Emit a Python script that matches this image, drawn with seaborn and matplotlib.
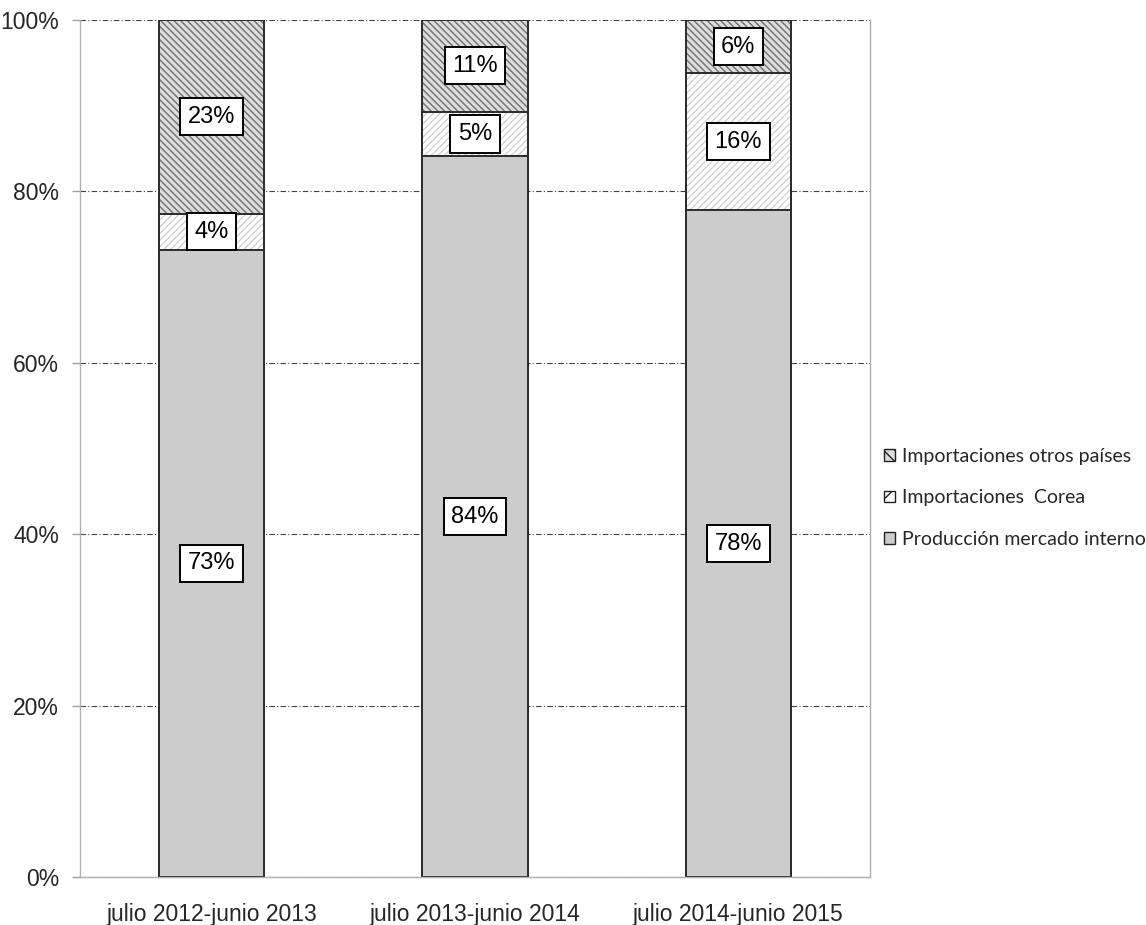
import matplotlib
matplotlib.use("Agg")
import matplotlib.pyplot as plt
import seaborn as sns
from matplotlib.patches import Patch
from matplotlib.ticker import PercentFormatter, FixedLocator

periodos = ["julio 2012-junio 2013", "julio 2013-junio 2014", "julio 2014-junio 2015"]
produccion = [73.2, 84.1, 77.8]
corea = [4.2, 5.2, 16.0]
otros = [22.6, 10.7, 6.2]
series = ["Importaciones otros países", "Importaciones  Corea", "Producción mercado interno"]
y_ticks = [0, 20, 40, 60, 80, 100]

sns.set_style("white")
plt.rcParams["font.family"] = ["Liberation Sans", "DejaVu Sans"]
plt.rcParams["hatch.linewidth"] = 1.0

fig = plt.figure(figsize=(11.46, 9.25), dpi=100)
ax = fig.add_axes([80 / 1146, 48 / 925, 790 / 1146, 857 / 925])

base = produccion
mid = [p + c for p, c in zip(produccion, corea)]
top = [m + o for m, o in zip(mid, otros)]

# capas apiladas: de la más alta a la más baja, cada una tapa la anterior
capas = [
    (top, "#dcdcdc", "#707070", "\\\\\\\\\\"),
    (mid, "white", "#d2d2d2", "/////"),
    (base, "#cccccc", "#cccccc", None),
]
for alturas, fondo, rayado, hatch in capas:
    sns.barplot(x=periodos, y=alturas, color=fondo, edgecolor=rayado,
                linewidth=0, hatch=hatch, width=0.4, saturation=1, ax=ax)
    sns.barplot(x=periodos, y=alturas, fill=False, color="#2b2b2b",
                linewidth=1.4, width=0.4, ax=ax)

# etiquetas en el centro de cada segmento
for i in range(len(periodos)):
    bottoms = [0, base[i], mid[i]]
    vals = [produccion[i], corea[i], otros[i]]
    for b, v in zip(bottoms, vals):
        ax.text(i, b + v / 2, f"{v:.0f}%", ha="center", va="center",
                fontsize=17, color="black",
                bbox=dict(boxstyle="square,pad=0.32", fc="white",
                          ec="black", lw=1.4))

ax.set_xlim(-0.5, 2.5)
ax.set_ylim(0, 100)
ax.yaxis.set_major_locator(FixedLocator(y_ticks))
ax.yaxis.set_major_formatter(PercentFormatter(100, decimals=0))
ax.grid(axis="y", color="#444444", linestyle=(0, (5, 2, 1, 2)), linewidth=0.8)
ax.set_axisbelow(True)

ax.xaxis.set_minor_locator(FixedLocator([-0.5, 0.5, 1.5, 2.5]))
ax.tick_params(axis="x", which="major", length=0, pad=19, labelsize=16.5)
ax.tick_params(axis="x", which="minor", length=9, width=1, color="#a0a0a0")
ax.tick_params(axis="y", length=6, width=1, color="#a0a0a0", pad=9,
               labelsize=16.5, left=True)
ax.set_xlabel("")
ax.set_ylabel("")

for lado in ["left", "bottom", "right"]:
    ax.spines[lado].set_color("#b0b0b0")
    ax.spines[lado].set_linewidth(1.0)
ax.spines["top"].set_visible(False)

handles = [
    Patch(facecolor="#dcdcdc", edgecolor="#222222", hatch="\\\\\\", lw=1.0),
    Patch(facecolor="white", edgecolor="#222222", hatch="//", lw=1.0),
    Patch(facecolor="#cccccc", edgecolor="#222222", lw=1.0),
]
fig.legend(handles, series, loc="center left",
           bbox_to_anchor=(884 / 1146, 1 - 498 / 925), frameon=False,
           prop={"family": ["Lato", "DejaVu Sans"], "size": 14},
           handlelength=0.55, handleheight=0.55, handletextpad=0.4,
           labelspacing=1.25, borderpad=0, borderaxespad=0)

fig.savefig("out.png", dpi=100)
